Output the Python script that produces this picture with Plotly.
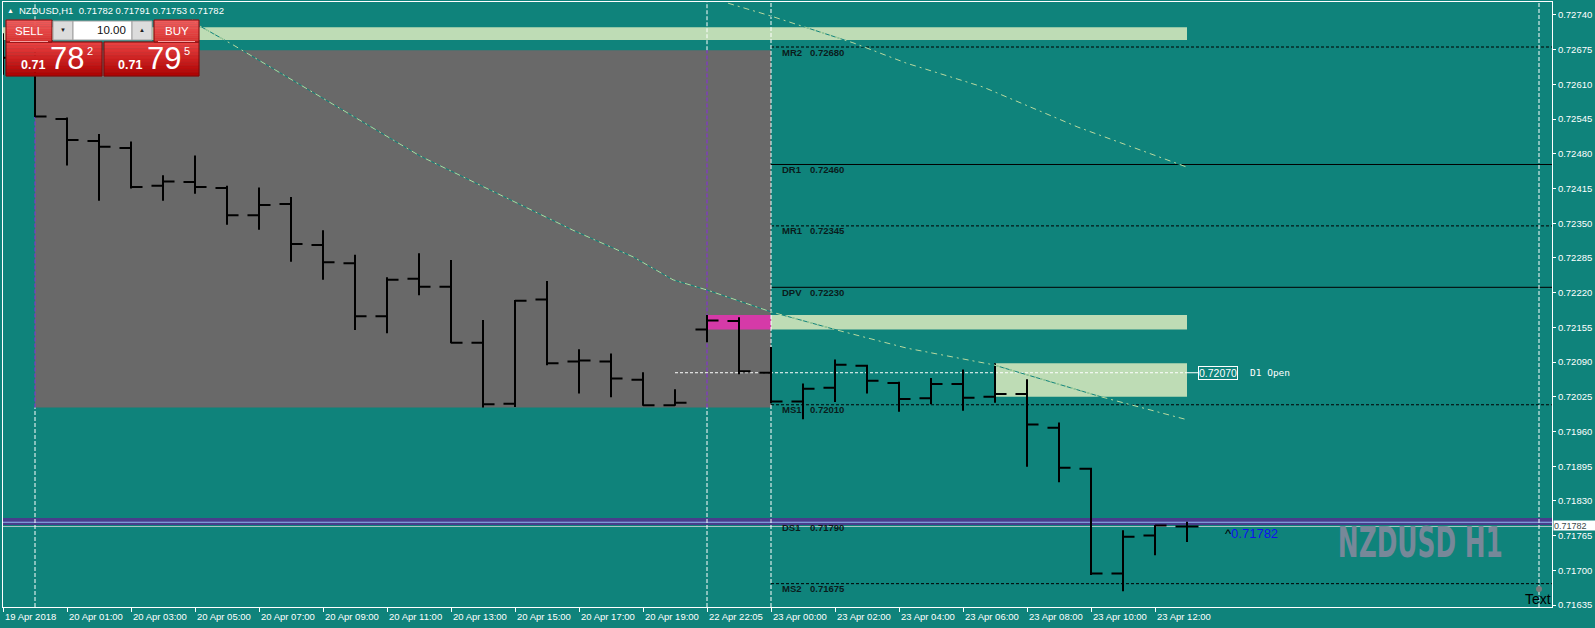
import plotly.graph_objects as go

# ------------------------------------------------------------------ data
bar_pos = list(range(-1, 37))
opens = [0.72690, 0.72659, 0.72545, 0.72504, 0.72491, 0.72420, 0.72427, 0.72416, 0.72365, 0.72386,
         0.72309, 0.72275, 0.72176, 0.72246, 0.72231, 0.72126, 0.72012, 0.72207, 0.72091, 0.72091,
         0.72057, 0.72009, 0.72151, 0.72167, 0.72070, 0.72016, 0.72042, 0.72083, 0.72051, 0.72022,
         0.72049, 0.72025, 0.72030, 0.71967, 0.71890, 0.71694, 0.71765, 0.71782]
highs = [0.72706, 0.72674, 0.72548, 0.72517, 0.72503, 0.72440, 0.72477, 0.72420, 0.72417, 0.72399,
         0.72337, 0.72291, 0.72249, 0.72294, 0.72281, 0.72169, 0.72206, 0.72242, 0.72114, 0.72106,
         0.72071, 0.72039, 0.72178, 0.72174, 0.72118, 0.72050, 0.72095, 0.72085, 0.72053, 0.72060,
         0.72076, 0.72088, 0.72058, 0.71977, 0.71892, 0.71775, 0.71785, 0.71791]
lows = [0.72628, 0.72549, 0.72458, 0.72392, 0.72415, 0.72392, 0.72405, 0.72347, 0.72338, 0.72278,
        0.72244, 0.72150, 0.72144, 0.72215, 0.72125, 0.72005, 0.72006, 0.72084, 0.72031, 0.72024,
        0.72008, 0.72008, 0.72127, 0.72067, 0.72013, 0.71983, 0.72015, 0.72031, 0.71997, 0.72011,
        0.71999, 0.72014, 0.71894, 0.71865, 0.71691, 0.71661, 0.71728, 0.71753]
closes = [0.72660, 0.72550, 0.72506, 0.72493, 0.72418, 0.72428, 0.72418, 0.72365, 0.72384, 0.72311,
          0.72277, 0.72176, 0.72244, 0.72231, 0.72126, 0.72011, 0.72205, 0.72088, 0.72093, 0.72059,
          0.72009, 0.72014, 0.72168, 0.72073, 0.72016, 0.72040, 0.72085, 0.72055, 0.72021, 0.72049,
          0.72023, 0.72030, 0.71973, 0.71892, 0.71694, 0.71763, 0.71784, 0.71782]

time_tick_pos = [-1, 1, 3, 5, 7, 9, 11, 13, 15, 17, 19, 21, 23, 25, 27, 29, 31, 33, 35]
time_tick_text = ["19 Apr 2018", "20 Apr 01:00", "20 Apr 03:00", "20 Apr 05:00", "20 Apr 07:00",
                  "20 Apr 09:00", "20 Apr 11:00", "20 Apr 13:00", "20 Apr 15:00", "20 Apr 17:00",
                  "20 Apr 19:00", "22 Apr 22:05", "23 Apr 00:00", "23 Apr 02:00", "23 Apr 04:00",
                  "23 Apr 06:00", "23 Apr 08:00", "23 Apr 10:00", "23 Apr 12:00"]
price_ticks = [0.72740, 0.72675, 0.72610, 0.72545, 0.72480, 0.72415, 0.72350, 0.72285, 0.72220,
               0.72155, 0.72090, 0.72025, 0.71960, 0.71895, 0.71830, 0.71765, 0.71700, 0.71635]

pivot_names = ["MR2", "DR1", "MR1", "DPV", "MS1", "DS1", "MS2"]
pivot_values = [0.72680, 0.72460, 0.72345, 0.72230, 0.72010, 0.71790, 0.71675]
pivot_solid = [False, True, False, True, False, True, False]
pivot_start = 23

curve_a_pos = [4.91, 5.16, 6.19, 8.03, 11.0, 12.03, 16.81, 18.69, 19.94, 21.0, 23.0, 25.06, 27.25,
               29.94, 33.31, 36.0]
curve_a_val = [0.72731, 0.72719, 0.72684, 0.72618, 0.72512, 0.72476, 0.72337, 0.72287, 0.72244,
               0.72225, 0.72184, 0.72150, 0.72116, 0.72085, 0.72025, 0.71982]
curve_b_pos = [21.66, 23.0, 25.56, 27.22, 29.63, 32.59, 36.0]
curve_b_val = [0.72762, 0.72738, 0.72688, 0.72650, 0.72605, 0.72530, 0.72455]

top_zone = [0.72693, 0.72717]
sr_zone = [0.72151, 0.72178]
sr_zone_start = 21
open_zone = [0.72025, 0.72088]
open_zone_start = 30
zone_end = 36
prev_day_start, prev_day_end = 0, 23
prev_day_high = max(highs[1:22])
prev_day_low = min(lows[1:22])
day_open = 0.72070
day_open_line_start = 20
ds1_band = [0.71785, 0.71798]
bid = 0.71782
vlines = [0, 21, 23, 47]
vlines_in_gray = [0, 21]

symbol = "NZDUSD,H1"
ohlc_text = "0.71782 0.71791 0.71753 0.71782"
watermark = "NZDUSD H1"

# ------------------------------------------------------------------ layout geometry
W, H = 1595, 628
LPX, RPX, TPX, BPX = 3, 1552, 2, 607
x_lo, x_hi = -1.0, 47.40625
y_lo, y_hi = 0.716313, 0.727643

TEAL = "#0F837B"
GRAY = "#696969"
LGREEN = "#BEDCB5"
PINK = "#D53AA8"
FONT = "Liberation Sans, Arial, sans-serif"


def px(x):
    return (x - LPX) / (RPX - LPX)


def py(y):
    return (BPX - y) / (BPX - TPX)


fig = go.Figure()

# dash-dot curves (teal underlay + green dash-dot)
for xs, ys in [(curve_a_pos, curve_a_val), (curve_b_pos, curve_b_val)]:
    fig.add_trace(go.Scatter(x=xs, y=ys, mode="lines", line=dict(color=TEAL, width=1),
                             hoverinfo="skip", showlegend=False))
    fig.add_trace(go.Scatter(x=xs, y=ys, mode="lines",
                             line=dict(color="#B9D99F", width=1, dash="6px,4px,2px,4px"),
                             hoverinfo="skip", showlegend=False))

fig.add_trace(go.Ohlc(x=bar_pos, open=opens, high=highs, low=lows, close=closes,
                      increasing=dict(line=dict(color="black", width=2)),
                      decreasing=dict(line=dict(color="black", width=2)),
                      tickwidth=0.36, hoverinfo="skip", showlegend=False))

shapes = []


def rect(x0, x1, y0, y1, color, xref="x", yref="y", layer="below", lc=None, lw=0):
    shapes.append(dict(type="rect", xref=xref, yref=yref, x0=x0, x1=x1, y0=y0, y1=y1,
                       fillcolor=color, layer=layer,
                       line=dict(color=lc if lc else color, width=lw)))


def line(x0, x1, y0, y1, color, width=1, dash="solid", xref="x", yref="y", layer="below"):
    shapes.append(dict(type="line", xref=xref, yref=yref, x0=x0, x1=x1, y0=y0, y1=y1,
                       layer=layer, line=dict(color=color, width=width, dash=dash)))


# zones
rect(x_lo, zone_end, top_zone[0], top_zone[1], LGREEN)
rect(prev_day_start, prev_day_end, prev_day_low, prev_day_high, GRAY)
rect(prev_day_end, zone_end, sr_zone[0], sr_zone[1], LGREEN)
rect(sr_zone_start, prev_day_end, sr_zone[0], sr_zone[1], PINK)
rect(open_zone_start, zone_end, open_zone[0], open_zone[1], LGREEN)

# pivot lines
for name, val, solid in zip(pivot_names, pivot_values, pivot_solid):
    if name == "DS1":
        continue
    line(pivot_start, x_hi, val, val, "black", 1, "solid" if solid else "3px,2px")

# DS1 band + lines
rect(0, 1, ds1_band[0], ds1_band[1], "#483D8B", xref="paper")
line(0, 1, pivot_values[5], pivot_values[5], "#8FB8F0", 1, xref="paper")
line(0, 1, bid, bid, "#A9C4C4", 1, xref="paper")

# day-open line
line(day_open_line_start, zone_end, day_open, day_open, "white", 1, "3px,2px")
line(zone_end, zone_end + 0.35, day_open, day_open, "white", 1)

# vertical separators
for v in vlines:
    if v in vlines_in_gray:
        line(v, v, y_lo, prev_day_low, "white", 1, "4px,2px")
        line(v, v, prev_day_high, y_hi, "white", 1, "4px,2px")
        line(v, v, prev_day_low, prev_day_high, "#8A2BE2", 1, "4px,2px")
    else:
        line(v, v, y_lo, y_hi, "white", 1, "4px,2px")


# ---------------- one-click trading panel (decoration, paper coords)
def hexrgb(h):
    h = h.lstrip("#")
    return [int(h[i:i + 2], 16) for i in (0, 2, 4)]


def grad(x0, x1, y0, y1, ctop, cbot, border, n=10):
    a, b = hexrgb(ctop), hexrgb(cbot)
    for k in range(n):
        t = k / (n - 1)
        c = "rgb(%d,%d,%d)" % tuple(round(a[j] + (b[j] - a[j]) * t) for j in range(3))
        ya = y0 + (y1 - y0) * k / n
        yb = y0 + (y1 - y0) * (k + 1) / n
        rect(px(x0), px(x1), py(ya), py(yb), c, xref="paper", yref="paper", layer="above",
             lc=c, lw=0.5)
    shapes.append(dict(type="rect", xref="paper", yref="paper", x0=px(x0), x1=px(x1),
                       y0=py(y0), y1=py(y1), layer="above", fillcolor="rgba(0,0,0,0)",
                       line=dict(color=border, width=1)))


grad(6, 102, 42, 76, "#E84040", "#B00404", "#7A0A0A")
grad(6, 52, 20, 42, "#F25C5C", "#D83030", "#7A0A0A")
grad(104, 199, 42, 76, "#E84040", "#B00404", "#7A0A0A")
grad(154, 199, 20, 42, "#F25C5C", "#D83030", "#7A0A0A")
line(px(10), px(48), py(41.5), py(41.5), "#F4A0A0", 1, xref="paper", yref="paper", layer="above")
line(px(158), px(195), py(41.5), py(41.5), "#F4A0A0", 1, xref="paper", yref="paper", layer="above")
rect(px(53), px(73), py(21), py(40), "#DCDCDC", xref="paper", yref="paper", layer="above",
     lc="#A0A0A0", lw=1)
rect(px(73), px(132), py(21), py(40), "#FFFFFF", xref="paper", yref="paper", layer="above",
     lc="#A0A0A0", lw=1)
rect(px(132), px(152), py(21), py(40), "#DCDCDC", xref="paper", yref="paper", layer="above",
     lc="#A0A0A0", lw=1)
# small marker near "Text"
shapes.append(dict(type="circle", xref="paper", yref="paper", x0=px(1536), x1=px(1542),
                   y0=py(586), y1=py(592), fillcolor="#7A7A7A", line=dict(width=0),
                   layer="above"))

ann = []


def txt(x, y, s, size, color="white", xa="left", ya="middle", bold=False, font=FONT, **kw):
    d = dict(xref="paper", yref="paper", x=px(x), y=py(y), text=s,
             showarrow=False, xanchor=xa, yanchor=ya,
             font=dict(size=size, color=color, family=font, weight="bold" if bold else "normal"),
             borderpad=0)
    d.update(kw)
    ann.append(d)


# header
txt(6, 10.5, "▲", 7)
txt(18, 10.5, symbol + "\u00a0\u00a0" + ohlc_text, 9.5)
# panel texts
txt(29, 30.5, "SELL", 11.5, xa="center")
txt(176.5, 30.5, "BUY", 11.5, xa="center")
txt(63, 30, "▼", 6, color="#202020", xa="center")
txt(142, 30, "▲", 6, color="#202020", xa="center")
txt(127, 30, "10.00", 11.5, color="#101010", xa="right")
txt(20, 64.5, "0.71", 12.5, bold=True)
txt(48.5, 58.5, "78", 31)
txt(85.5, 51, "2", 11)
txt(117, 64.5, "0.71", 12.5, bold=True)
txt(146, 58.5, "79", 31)
txt(182.5, 51, "5", 11)

# x tick labels
for pos, lab in zip(time_tick_pos, time_tick_text):
    ann.append(dict(xref="x", yref="paper", x=pos, y=py(616), text=lab, showarrow=False,
                    xanchor="left", yanchor="middle", xshift=1, borderpad=0,
                    font=dict(size=9.5, color="white", family=FONT)))

# pivot labels
for name, val in zip(pivot_names, pivot_values):
    for s, sh in [(name, 10), ("%.5f" % val, 38)]:
        ann.append(dict(xref="x", yref="y", x=pivot_start, y=val, text=s,
                        showarrow=False, xanchor="left", yanchor="middle", xshift=sh, yshift=-5,
                        borderpad=0,
                        font=dict(size=9.5, color="#0A1C1C", family=FONT, weight="bold")))

# day open label
ann.append(dict(xref="x", yref="y", x=zone_end, y=day_open, text="%.5f" % day_open,
                showarrow=False, xanchor="left", yanchor="middle", xshift=11, borderpad=0,
                bordercolor="white", borderwidth=1, bgcolor=TEAL,
                font=dict(size=10.5, color="white", family=FONT)))
ann.append(dict(xref="x", yref="y", x=zone_end, y=day_open, text="D1 Open", showarrow=False,
                xanchor="left", yanchor="middle", xshift=62, borderpad=0,
                font=dict(size=9.5, color="white", family="DejaVu Sans Mono, monospace")))

# current price labels
ann.append(dict(xref="x", yref="y", x=zone_end, y=bid,
                text="<span style='color:black'>^</span>%.5f" % bid, showarrow=False,
                xanchor="left", yanchor="middle", xshift=37, yshift=-7, borderpad=0,
                font=dict(size=13, color="#1010F0", family=FONT)))
ann.append(dict(xref="paper", yref="y", x=1, y=bid, text="%.5f" % bid, showarrow=False,
                xanchor="left", yanchor="middle", xshift=1, yshift=1.5, borderpad=0,
                bgcolor="white", width=42, height=9, align="left",
                font=dict(size=9, color="#3A4A4A", family=FONT)))

# watermark & text object
txt(1420.5, 542, watermark, 42, color="#778899", xa="center", bold=True,
    font="DejaVu Sans Condensed, DejaVu Sans, sans-serif")
txt(1552, 599, "Text", 14, color="black", xa="right")

fig.update_layout(
    width=W, height=H,
    margin=dict(l=LPX, r=W - RPX, t=TPX, b=H - BPX, pad=0),
    paper_bgcolor=TEAL, plot_bgcolor=TEAL,
    shapes=shapes, annotations=ann, showlegend=False,
    xaxis=dict(range=[x_lo, x_hi], showgrid=False, zeroline=False, showline=True, mirror=True,
               linecolor="white", linewidth=1, ticks="outside", tickvals=time_tick_pos,
               ticklen=4, tickcolor="white", showticklabels=False,
               rangeslider=dict(visible=False), fixedrange=True),
    yaxis=dict(range=[y_lo, y_hi], side="right", showgrid=False, zeroline=False, showline=True,
               mirror=True, linecolor="white", linewidth=1, ticks="outside",
               tickvals=price_ticks, ticktext=["%.5f" % v for v in price_ticks], ticklen=3,
               tickcolor="white", tickfont=dict(size=9.5, color="white", family=FONT),
               fixedrange=True),
)

post = """
document.documentElement.style.margin='0';
document.body.style.margin='0';
document.body.style.padding='0';
document.body.style.overflow='hidden';
function squeeze(){
  document.querySelectorAll('text.annotation-text').forEach(function(t){
    if(t.textContent==='%s'){
      t.setAttribute('textLength','165');
      t.setAttribute('lengthAdjust','spacingAndGlyphs');
    }
  });
}
squeeze(); setTimeout(squeeze, 50); setTimeout(squeeze, 300);
var gdq=document.getElementById('{plot_id}');
if(gdq && gdq.on){ gdq.on('plotly_afterplot', squeeze); }
""" % watermark

fig.write_html("out.html", post_script=post, config={"displayModeBar": False})
